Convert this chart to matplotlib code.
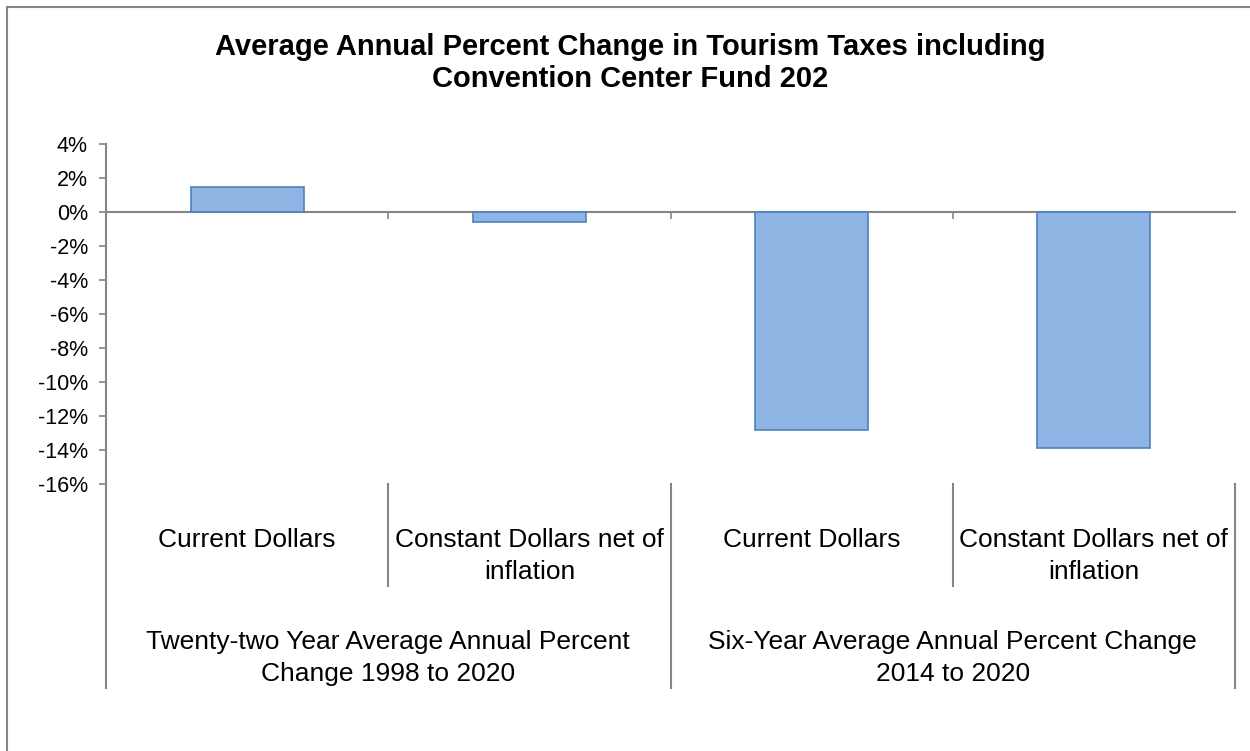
import matplotlib.pyplot as plt
from matplotlib.patches import Rectangle

plt.rcParams['font.family'] = ['Liberation Sans', 'DejaVu Sans']

title = "Average Annual Percent Change in Tourism Taxes including\nConvention Center Fund 202"
categories = ["Current Dollars", "Constant Dollars net of\ninflation",
              "Current Dollars", "Constant Dollars net of\ninflation"]
groups = ["Twenty-two Year Average Annual Percent\nChange 1998 to 2020",
          "Six-Year Average Annual Percent Change\n2014 to 2020"]
values = [1.5, -0.6, -12.8, -13.9]
yticks = list(range(-16, 5, 2))

axis_grey = "#868686"

fig = plt.figure(figsize=(12.5, 7.51), dpi=100)
fig.patches.append(Rectangle((7 / 1250, -0.1), 1.1, 1 - 7 / 751 + 0.1,
                             transform=fig.transFigure, fill=False,
                             edgecolor=axis_grey, linewidth=1.5))

ax = fig.add_axes([106 / 1250, 1 - 484 / 751, 1129 / 1250, 340 / 751])

x = [i + 0.5 for i in range(len(values))]
ax.bar(x, values, width=0.4, color="#8EB4E3", edgecolor="#4F81BD", linewidth=1.2, zorder=3)

ax.set_xlim(0, 4)
ax.set_ylim(-16, 4)
ax.set_yticks(yticks)
ax.set_yticklabels([f"{v}%" for v in yticks], fontsize=15.5)
ax.tick_params(axis="y", direction="out", length=5, color=axis_grey, width=1.2, pad=8)

for s in ["top", "right"]:
    ax.spines[s].set_visible(False)
ax.spines["left"].set_color(axis_grey)
ax.spines["left"].set_linewidth(1.5)
ax.spines["bottom"].set_position(("data", 0))
ax.spines["bottom"].set_color(axis_grey)
ax.spines["bottom"].set_linewidth(1.5)
ax.set_xticks([1, 2, 3])
ax.set_xticklabels([])
ax.tick_params(axis="x", direction="out", length=5, color=axis_grey, width=1.2)

# category labels below the plot area
for xi, lab in zip(x, categories):
    ax.text(xi / 4, -0.13, lab, transform=ax.transAxes, ha="center", va="top",
            fontsize=19, linespacing=1.4)
for gi, lab in enumerate(groups):
    ax.text((gi * 2 + 1) / 4, -0.43, lab, transform=ax.transAxes, ha="center", va="top",
            fontsize=19, linespacing=1.4)

# separators for the grouped axis
sep_kw = dict(transform=ax.transAxes, color=axis_grey, linewidth=1.5, clip_on=False)
ax.plot([0, 0], [0, -0.6], **sep_kw)
ax.plot([0.25, 0.25], [0, -0.3], **sep_kw)
ax.plot([0.75, 0.75], [0, -0.3], **sep_kw)
ax.plot([0.5, 0.5], [0, -0.6], **sep_kw)
ax.plot([1, 1], [0, -0.6], **sep_kw)

fig.text(0.504, 1 - 63 / 751, title, ha="center", va="center", fontsize=21,
         fontweight="bold", linespacing=1.2)

fig.savefig("out.png", dpi=100)
